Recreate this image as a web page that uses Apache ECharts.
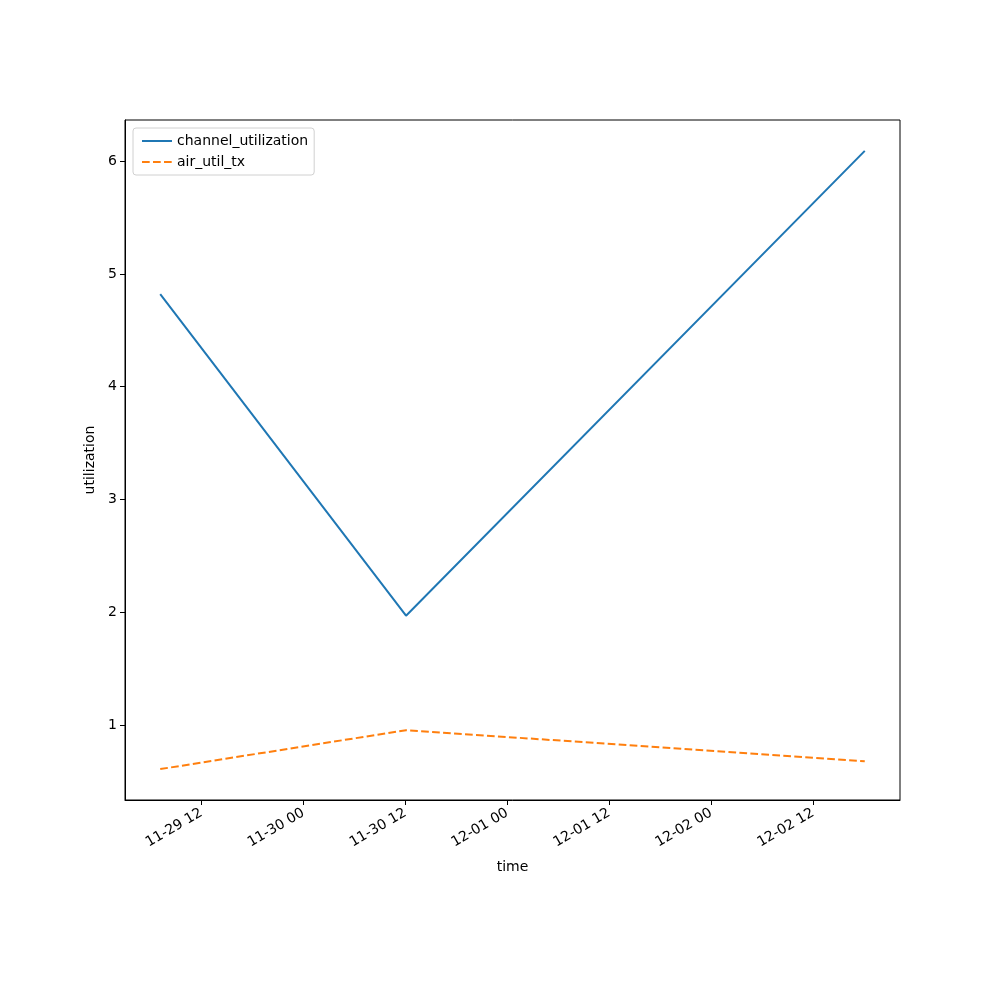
<!DOCTYPE html>
<html>
<head>
<meta charset="utf-8">
<script src="https://cdn.jsdelivr.net/npm/echarts@6/dist/echarts.min.js"></script>
<style>html,body{margin:0;padding:0;background:#fff}#c{width:1000px;height:1000px}</style>
</head>
<body>
<div id="c"></div>
<script>
const times = ['2023-11-29T07:09:00Z', '2023-11-30T12:05:00Z', '2023-12-02T18:05:00Z'];
const channelUtilization = [4.82, 1.97, 6.09];
const airUtilTx = [0.61, 0.955, 0.68];
const xTickLabels = ['2023-11-29T12:00:00Z', '2023-11-30T00:00:00Z', '2023-11-30T12:00:00Z', '2023-12-01T00:00:00Z', '2023-12-01T12:00:00Z', '2023-12-02T00:00:00Z', '2023-12-02T12:00:00Z'];
const yTicks = [1, 2, 3, 4, 5, 6];

const ts = times.map(t => Date.parse(t));
const xTicks = xTickLabels.map(t => Date.parse(t));
const tMin = Math.min(...ts), tMax = Math.max(...ts);
const xPad = (tMax - tMin) * 0.05;
const allY = channelUtilization.concat(airUtilTx);
const yLo = Math.min(...allY), yHi = Math.max(...allY);
const yPad = (yHi - yLo) * 0.05;

function pad(n){return (n<10?'0':'')+n;}
function fmt(v){const d=new Date(v);return pad(d.getUTCMonth()+1)+'-'+pad(d.getUTCDate())+' '+pad(d.getUTCHours());}

const font = 'DejaVu Sans';
const chart = echarts.init(document.getElementById('c'), null, {renderer:'canvas'});
chart.setOption({
  animation: false,
  backgroundColor: '#fff',
  textStyle: {fontFamily: font},
  grid: {left: 125, right: 100, top: 120, bottom: 200, show: true, borderColor: '#000', borderWidth: 1, containLabel: false},
  legend: {
    orient: 'vertical', left: 133, top: 128,
    padding: [6, 6, 6, 8],
    itemWidth: 30, itemHeight: 10, itemGap: 7,
    borderColor: '#d0d0d0', borderWidth: 1, borderRadius: 3,
    itemStyle: {opacity: 0},
    textStyle: {fontFamily: font, fontSize: 14, color: '#000'},
    data: ['channel_utilization', 'air_util_tx']
  },
  xAxis: {
    type: 'value', min: tMin - xPad, max: tMax + xPad,
    name: 'time', nameLocation: 'middle', nameGap: 60,
    nameTextStyle: {fontFamily: font, fontSize: 14, color: '#000'},
    axisLine: {show: true, onZero: false, lineStyle: {color: '#000', width: 1}},
    axisTick: {show: true, length: 5, lineStyle: {color: '#000'}, customValues: xTicks},
    axisLabel: {rotate: 30, fontFamily: font, fontSize: 14, color: '#000', margin: 12, customValues: xTicks, formatter: v => fmt(v)},
    splitLine: {show: false}
  },
  yAxis: {
    type: 'value', min: yLo - yPad, max: yHi + yPad,
    name: 'utilization', nameLocation: 'middle', nameGap: 26, nameRotate: 90,
    nameTextStyle: {fontFamily: font, fontSize: 14, color: '#000'},
    axisLine: {show: true, onZero: false, lineStyle: {color: '#000', width: 1}},
    axisTick: {show: true, length: 5, lineStyle: {color: '#000'}, customValues: yTicks},
    axisLabel: {fontFamily: font, fontSize: 14, color: '#000', margin: 8, customValues: yTicks, formatter: v => String(Math.round(v))},
    splitLine: {show: false}
  },
  series: [
    {name: 'channel_utilization', type: 'line', symbol: 'none', color: '#1f77b4',
     lineStyle: {width: 2, color: '#1f77b4'},
     data: ts.map((t, i) => [t, channelUtilization[i]])},
    {name: 'air_util_tx', type: 'line', symbol: 'none', color: '#ff7f0e',
     lineStyle: {width: 2, color: '#ff7f0e', type: [7.7, 3.3]},
     data: ts.map((t, i) => [t, airUtilTx[i]])}
  ]
});
</script>
</body>
</html>
